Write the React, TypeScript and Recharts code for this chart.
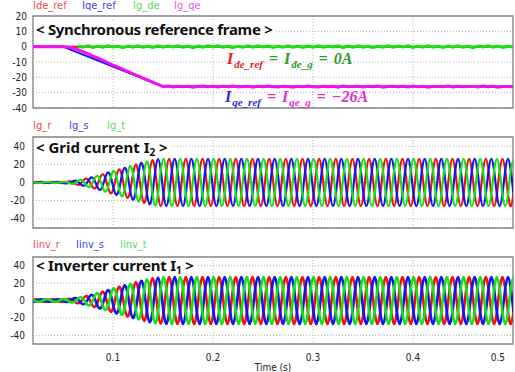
import { LineChart, Line, XAxis, YAxis, CartesianGrid, ReferenceArea } from 'recharts';

// time axis (s)
const T_START = 0.02;
const T_END = 0.5;
const SINE_STEP = 1 / 360; // sample step of the ac traces
const DQ_STEP = 0.005; // sample step of the measured dq traces
const TIME_TICKS = [0.1, 0.2, 0.3, 0.4, 0.5];

// < Synchronous reference frame >
const DQ_TICKS = [20, 10, 0, -10, -20, -30, -40];
const IDE_REF_T = [0.02, 0.5];
const IDE_REF = [0, 0];
const IQE_REF_T = [0.02, 0.05, 0.15, 0.5];
const IQE_REF = [0, 0, -26, -26];
const IG_QE = [
  0, 0.1, -0.1, 0, 0.1, -0.1, 0,
  -0.2, -0.9, -2, -3.3, -4.7, -6.1, -7.5, -9, -10.5, -12,
  -13.4, -14.8, -16.2, -17.7, -19.1, -20.5, -21.9, -23.3, -24.6, -26,
  -25.7, -26.3, -25.9, -26.2, -25.8, -26.4, -26, -25.7, -26.2, -25.9,
  -26.3, -25.8, -26.1, -25.7, -26.3, -26, -25.8, -26.4, -25.9, -26.2,
  -25.7, -26.1, -26.3, -25.8, -26, -26.4, -25.9, -26.2, -25.7, -26.1,
  -26.3, -25.8, -26.2, -25.9, -26.4, -25.7, -26.1, -26, -25.8, -26.3,
  -25.9, -26.2, -25.7, -26.4, -26, -25.8, -26.2, -25.9, -26.3, -25.7,
  -26.1, -25.8, -26.4, -26, -25.9, -26.2, -25.7, -26.3, -25.8, -26.1,
  -26, -25.9, -26.3, -25.7, -26.2, -25.8, -26.4, -26, -25.9, -26.1,
];
const IG_DE_START = 0.065;
const IG_DE = [
  0.4, -0.3, 0.6, -0.5, 0.2, -0.4, 0.5, -0.2, 0.3, -0.6, 0.4,
  -0.3, 0.5, -0.4, 0.2, -0.5, 0.6, -0.3, 0.4, -0.2, 0.5, -0.4,
  0.3, -0.6, 0.4, -0.3, 0.5, -0.2, 0.6, -0.4, 0.3, -0.5, 0.2,
  -0.4, 0.5, -0.3, 0.6, -0.2, 0.4, -0.5, 0.3, -0.4, 0.5, -0.3,
  0.2, -0.5, 0.4, -0.3, 0.6, -0.4, 0.3, -0.2, 0.5, -0.6, 0.4,
  -0.3, 0.5, -0.4, 0.2, -0.5, 0.3, -0.3, 0.6, -0.4, 0.4, -0.2,
  0.5, -0.5, 0.3, -0.4, 0.6, -0.3, 0.2, -0.5, 0.4, -0.3, 0.5,
  -0.4, 0.3, -0.6, 0.4, -0.2, 0.5, -0.3, 0.4, -0.5, 0.3, -0.2,
];

// < Grid current I2 >
const AC_TICKS = [40, 20, 0, -20, -40];
const IG_R = [
  0.3, 0.6, 0.3, -0.3, -0.6, -0.3, 0.3, 0.6, 0.3, -0.3, -0.6, -0.4,
  0.5, 1.2, 0.8, -1, -2.5, -1.5, 1.8, 4.3, 2.5, -2.9, -6.5, -3.7,
  4.1, 9, 5, -5.5, -12, -6.4, 6.8, 14.5, 7.7, -8.1, -17, -9,
  9.5, 19.8, 10.4, -10.8, -22.4, -11.6, 12, 24.6, 12.6, -12.8, -26, -13,
  13, 26, 13, -13, -26, -13, 13, 26, 13, -13, -26, -13, 13, 26, 13, -13, -26, -13,
  13, 26, 13, -13, -26, -13, 13, 26, 13, -13, -26, -13, 13, 26, 13, -13, -26, -13,
  13, 26, 13, -13, -26, -13, 13, 26, 13, -13, -26, -13, 13, 26, 13, -13, -26, -13,
  13, 26, 13, -13, -26, -13, 13, 26, 13, -13, -26, -13, 13, 26, 13, -13, -26, -13,
  13, 26, 13, -13, -26, -13, 13, 26, 13, -13, -26, -13, 13, 26, 13, -13, -26, -13,
  13, 26, 13, -13, -26, -13, 13, 26, 13, -13, -26, -13, 13, 26, 13, -13, -26, -13,
  13, 26, 13, -13, -26, -13, 13, 26, 13, -13, -26, -13, 13, 26, 13, -13, -26, -13,
];
const IG_S = [
  -0.6, -0.3, 0.3, 0.6, 0.3, -0.3, -0.6, -0.3, 0.3, 0.6, 0.3, -0.4,
  -1, -0.6, 0.8, 2, 1.3, -1.5, -3.5, -2.2, 2.5, 5.7, 3.3, -3.7,
  -8.2, -4.5, 5, 11, 6, -6.4, -13.6, -7.3, 7.7, 16.2, 8.5, -9,
  -19, -9.9, 10.4, 21.5, 11.2, -11.6, -24, -12.3, 12.6, 25.6, 13, -13,
  -26, -13, 13, 26, 13, -13, -26, -13, 13, 26, 13, -13, -26, -13, 13, 26, 13, -13,
  -26, -13, 13, 26, 13, -13, -26, -13, 13, 26, 13, -13, -26, -13, 13, 26, 13, -13,
  -26, -13, 13, 26, 13, -13, -26, -13, 13, 26, 13, -13, -26, -13, 13, 26, 13, -13,
  -26, -13, 13, 26, 13, -13, -26, -13, 13, 26, 13, -13, -26, -13, 13, 26, 13, -13,
  -26, -13, 13, 26, 13, -13, -26, -13, 13, 26, 13, -13, -26, -13, 13, 26, 13, -13,
  -26, -13, 13, 26, 13, -13, -26, -13, 13, 26, 13, -13, -26, -13, 13, 26, 13, -13,
  -26, -13, 13, 26, 13, -13, -26, -13, 13, 26, 13, -13, -26, -13, 13, 26, 13, -13,
];
const IG_T = [
  0.3, -0.3, -0.6, -0.3, 0.3, 0.6, 0.3, -0.3, -0.6, -0.3, 0.3, 0.8,
  0.5, -0.6, -1.5, -1, 1.3, 3, 1.8, -2.2, -5, -2.9, 3.3, 7.3,
  4.1, -4.5, -10, -5.5, 6, 12.8, 6.8, -7.3, -15.3, -8.1, 8.5, 18,
  9.5, -9.9, -20.7, -10.8, 11.2, 23.2, 12, -12.3, -25.2, -12.8, 13, 26,
  13, -13, -26, -13, 13, 26, 13, -13, -26, -13, 13, 26, 13, -13, -26, -13, 13, 26,
  13, -13, -26, -13, 13, 26, 13, -13, -26, -13, 13, 26, 13, -13, -26, -13, 13, 26,
  13, -13, -26, -13, 13, 26, 13, -13, -26, -13, 13, 26, 13, -13, -26, -13, 13, 26,
  13, -13, -26, -13, 13, 26, 13, -13, -26, -13, 13, 26, 13, -13, -26, -13, 13, 26,
  13, -13, -26, -13, 13, 26, 13, -13, -26, -13, 13, 26, 13, -13, -26, -13, 13, 26,
  13, -13, -26, -13, 13, 26, 13, -13, -26, -13, 13, 26, 13, -13, -26, -13, 13, 26,
  13, -13, -26, -13, 13, 26, 13, -13, -26, -13, 13, 26, 13, -13, -26, -13, 13, 26,
];

// < Inverter current I1 >
const IINV_R = [
  0.8, 1.5, 0.8, -0.8, -1.5, -0.8, 0.8, 1.5, 0.8, -0.8, -1.5, -0.8,
  0.9, 2, 1.2, -1.4, -3.2, -1.9, 2.2, 5, 2.9, -3.3, -7.4, -4.2,
  4.6, 10.1, 5.5, -6, -13, -7, 7.4, 15.7, 8.3, -8.8, -18.4, -9.7,
  10.1, 21, 10.9, -11.3, -23.4, -12.1, 12.5, 25.6, 13.1, -13.3, -26.8, -13.5,
  13.5, 27, 13.5, -13.5, -27, -13.5, 13.5, 27, 13.5, -13.5, -27, -13.5, 13.5, 27, 13.5, -13.5, -27, -13.5,
  13.5, 27, 13.5, -13.5, -27, -13.5, 13.5, 27, 13.5, -13.5, -27, -13.5, 13.5, 27, 13.5, -13.5, -27, -13.5,
  13.5, 27, 13.5, -13.5, -27, -13.5, 13.5, 27, 13.5, -13.5, -27, -13.5, 13.5, 27, 13.5, -13.5, -27, -13.5,
  13.5, 27, 13.5, -13.5, -27, -13.5, 13.5, 27, 13.5, -13.5, -27, -13.5, 13.5, 27, 13.5, -13.5, -27, -13.5,
  13.5, 27, 13.5, -13.5, -27, -13.5, 13.5, 27, 13.5, -13.5, -27, -13.5, 13.5, 27, 13.5, -13.5, -27, -13.5,
  13.5, 27, 13.5, -13.5, -27, -13.5, 13.5, 27, 13.5, -13.5, -27, -13.5, 13.5, 27, 13.5, -13.5, -27, -13.5,
  13.5, 27, 13.5, -13.5, -27, -13.5, 13.5, 27, 13.5, -13.5, -27, -13.5, 13.5, 27, 13.5, -13.5, -27, -13.5,
];
const IINV_S = [
  -1.5, -0.8, 0.8, 1.5, 0.8, -0.8, -1.5, -0.8, 0.8, 1.5, 0.8, -0.8,
  -1.8, -1, 1.2, 2.7, 1.6, -1.9, -4.3, -2.5, 2.9, 6.6, 3.7, -4.2,
  -9.2, -5.1, 5.5, 12, 6.5, -7, -14.8, -7.9, 8.3, 17.5, 9.2, -9.7,
  -20.2, -10.5, 10.9, 22.6, 11.7, -12.1, -25, -12.8, 13.1, 26.5, 13.4, -13.5,
  -27, -13.5, 13.5, 27, 13.5, -13.5, -27, -13.5, 13.5, 27, 13.5, -13.5, -27, -13.5, 13.5, 27, 13.5, -13.5,
  -27, -13.5, 13.5, 27, 13.5, -13.5, -27, -13.5, 13.5, 27, 13.5, -13.5, -27, -13.5, 13.5, 27, 13.5, -13.5,
  -27, -13.5, 13.5, 27, 13.5, -13.5, -27, -13.5, 13.5, 27, 13.5, -13.5, -27, -13.5, 13.5, 27, 13.5, -13.5,
  -27, -13.5, 13.5, 27, 13.5, -13.5, -27, -13.5, 13.5, 27, 13.5, -13.5, -27, -13.5, 13.5, 27, 13.5, -13.5,
  -27, -13.5, 13.5, 27, 13.5, -13.5, -27, -13.5, 13.5, 27, 13.5, -13.5, -27, -13.5, 13.5, 27, 13.5, -13.5,
  -27, -13.5, 13.5, 27, 13.5, -13.5, -27, -13.5, 13.5, 27, 13.5, -13.5, -27, -13.5, 13.5, 27, 13.5, -13.5,
  -27, -13.5, 13.5, 27, 13.5, -13.5, -27, -13.5, 13.5, 27, 13.5, -13.5, -27, -13.5, 13.5, 27, 13.5, -13.5,
];
const IINV_T = [
  0.8, -0.8, -1.5, -0.8, 0.8, 1.5, 0.8, -0.8, -1.5, -0.8, 0.8, 1.6,
  0.9, -1, -2.3, -1.4, 1.6, 3.7, 2.2, -2.5, -5.8, -3.3, 3.7, 8.3,
  4.6, -5.1, -11, -6, 6.5, 13.9, 7.4, -7.9, -16.6, -8.8, 9.2, 19.3,
  10.1, -10.5, -21.8, -11.3, 11.7, 24.2, 12.5, -12.8, -26.1, -13.3, 13.4, 27,
  13.5, -13.5, -27, -13.5, 13.5, 27, 13.5, -13.5, -27, -13.5, 13.5, 27, 13.5, -13.5, -27, -13.5, 13.5, 27,
  13.5, -13.5, -27, -13.5, 13.5, 27, 13.5, -13.5, -27, -13.5, 13.5, 27, 13.5, -13.5, -27, -13.5, 13.5, 27,
  13.5, -13.5, -27, -13.5, 13.5, 27, 13.5, -13.5, -27, -13.5, 13.5, 27, 13.5, -13.5, -27, -13.5, 13.5, 27,
  13.5, -13.5, -27, -13.5, 13.5, 27, 13.5, -13.5, -27, -13.5, 13.5, 27, 13.5, -13.5, -27, -13.5, 13.5, 27,
  13.5, -13.5, -27, -13.5, 13.5, 27, 13.5, -13.5, -27, -13.5, 13.5, 27, 13.5, -13.5, -27, -13.5, 13.5, 27,
  13.5, -13.5, -27, -13.5, 13.5, 27, 13.5, -13.5, -27, -13.5, 13.5, 27, 13.5, -13.5, -27, -13.5, 13.5, 27,
  13.5, -13.5, -27, -13.5, 13.5, 27, 13.5, -13.5, -27, -13.5, 13.5, 27, 13.5, -13.5, -27, -13.5, 13.5, 27,
];

const RED = '#f01010';
const BLUE = '#1414f0';
const GREEN = '#16e016';
const MAGENTA = '#f010f0';

const NARROW = "'Liberation Sans Narrow', 'DejaVu Sans Condensed', 'Liberation Sans', sans-serif";
const TITLE_FONT = "'Noto Sans', 'DejaVu Sans', sans-serif";
const MATH_FONT = "'Liberation Serif', 'DejaVu Serif', serif";

type Pt = { t: number; v: number };
type Series = { name: string; color: string; width: number; data: Pt[]; curve: 'linear' | 'natural' };

const pairs = (times: number[], values: number[]): Pt[] => values.map((v, i) => ({ t: times[i], v }));
const sampled = (start: number, step: number, values: number[]): Pt[] =>
  values.map((v, i) => ({ t: start + i * step, v }));

const dqSeries: Series[] = [
  { name: 'Ide_ref', color: RED, width: 2, curve: 'linear', data: pairs(IDE_REF_T, IDE_REF) },
  { name: 'Iqe_ref', color: BLUE, width: 2, curve: 'linear', data: pairs(IQE_REF_T, IQE_REF) },
  { name: 'Ig_de', color: GREEN, width: 3, curve: 'linear', data: sampled(IG_DE_START, DQ_STEP, IG_DE) },
  { name: 'Ig_qe', color: MAGENTA, width: 3, curve: 'linear', data: sampled(T_START, DQ_STEP, IG_QE) },
];
const gridSeries: Series[] = [
  { name: 'Ig_r', color: RED, width: 2.2, curve: 'natural', data: sampled(T_START, SINE_STEP, IG_R) },
  { name: 'Ig_s', color: BLUE, width: 2.2, curve: 'natural', data: sampled(T_START, SINE_STEP, IG_S) },
  { name: 'Ig_t', color: GREEN, width: 2.2, curve: 'natural', data: sampled(T_START, SINE_STEP, IG_T) },
];
const invSeries: Series[] = [
  { name: 'Iinv_r', color: RED, width: 2.6, curve: 'natural', data: sampled(T_START, SINE_STEP, IINV_R) },
  { name: 'Iinv_s', color: BLUE, width: 2.6, curve: 'natural', data: sampled(T_START, SINE_STEP, IINV_S) },
  { name: 'Iinv_t', color: GREEN, width: 2.6, curve: 'natural', data: sampled(T_START, SINE_STEP, IINV_T) },
];

function TimeTick({ x, y, payload }: any) {
  const last = payload.value >= T_END;
  return (
    <text x={x} y={y} dy={9} textAnchor={last ? 'end' : 'middle'} fontSize={10} fill="#222" fontFamily={NARROW}>
      {payload.value}
    </text>
  );
}

interface PanelProps {
  top: number;
  height: number;
  marginTop: number;
  marginBottom: number;
  yDomain: [number, number];
  yTicks: number[];
  series: Series[];
  showTime?: boolean;
  tickMargin: number;
}

function Panel({ top, height, marginTop, marginBottom, yDomain, yTicks, series, showTime, tickMargin }: PanelProps) {
  return (
    <div style={{ position: 'absolute', left: 0, top }}>
      <LineChart width={515} height={height} margin={{ top: marginTop, right: 2, bottom: marginBottom, left: 5 }}>
        <CartesianGrid stroke="#b4b4b4" strokeDasharray="1 2" />
        <XAxis
          type="number"
          dataKey="t"
          domain={[T_START, T_END]}
          ticks={TIME_TICKS}
          allowDataOverflow
          hide={!showTime}
          height={showTime ? 28 : 0}
          axisLine={false}
          tickLine={false}
          tick={<TimeTick />}
          label={showTime ? { value: 'Time (s)', position: 'insideBottom', offset: 1, fontSize: 10, fill: '#222', fontFamily: NARROW } : undefined}
        />
        <YAxis
          type="number"
          domain={yDomain}
          ticks={yTicks}
          interval={0}
          allowDataOverflow
          width={28}
          axisLine={false}
          tickLine={false}
          tickMargin={tickMargin}
          tick={{ fontSize: 10, fill: '#222', fontFamily: NARROW }}
        />
        {series.map((s) => (
          <Line
            key={s.name}
            data={s.data}
            dataKey="v"
            type={s.curve}
            stroke={s.color}
            strokeWidth={s.width}
            dot={false}
            activeDot={false}
            isAnimationActive={false}
          />
        ))}
        <ReferenceArea
          x1={T_START}
          x2={T_END}
          y1={yDomain[0]}
          y2={yDomain[1]}
          fill="none"
          stroke="#858585"
          strokeWidth={1.3}
          ifOverflow="visible"
        />
      </LineChart>
    </div>
  );
}

function Legend({ top, items }: { top: number; items: { label: string; color: string; left: number }[] }) {
  return (
    <>
      {items.map((it) => (
        <div
          key={it.label}
          style={{ position: 'absolute', left: it.left, top, color: it.color, fontFamily: NARROW, fontSize: 11, lineHeight: '12px' }}
        >
          {it.label}
        </div>
      ))}
    </>
  );
}

function Title({ top, text, sub, spacing }: { top: number; text: string; sub?: string; spacing: number }) {
  return (
    <div
      style={{
        position: 'absolute',
        left: 35,
        top,
        background: '#fff',
        padding: '0 2px 0 1px',
        fontFamily: TITLE_FONT,
        fontWeight: 700,
        fontSize: 15,
        lineHeight: '14px',
        letterSpacing: spacing,
        color: '#111',
        whiteSpace: 'nowrap',
      }}
    >
      {'< '}
      {text}
      {sub && <span style={{ fontSize: 10, position: 'relative', top: 3 }}>{sub}</span>}
      {' >'}
    </div>
  );
}

const mathStyle = {
  position: 'absolute' as const,
  fontFamily: MATH_FONT,
  fontStyle: 'italic',
  fontWeight: 700,
  fontSize: 16,
  lineHeight: '15px',
  whiteSpace: 'nowrap' as const,
};
const subStyle = { fontSize: 11, position: 'relative' as const, top: 4, marginLeft: 1 };
const eqStyle = { margin: '0 6px', fontStyle: 'normal' as const };

export default function App() {
  return (
    <div style={{ position: 'absolute', left: 0, top: 0, width: 515, height: 372, background: '#fff', overflow: 'hidden' }}>
      <Panel top={0} height={115} marginTop={16} marginBottom={7} yDomain={[-40, 20]} yTicks={DQ_TICKS} series={dqSeries} tickMargin={0} />
      <Panel top={115} height={120} marginTop={22} marginBottom={7} yDomain={[-50, 50]} yTicks={AC_TICKS} series={gridSeries} tickMargin={2} />
      <Panel top={235} height={137} marginTop={22} marginBottom={0} yDomain={[-50, 50]} yTicks={AC_TICKS} series={invSeries} showTime tickMargin={2} />

      <Legend
        top={0}
        items={[
          { label: 'Ide_ref', color: '#f24a4a', left: 33 },
          { label: 'Iqe_ref', color: '#4343ee', left: 82 },
          { label: 'Ig_de', color: '#55e055', left: 133 },
          { label: 'Ig_qe', color: '#ee55ee', left: 174 },
        ]}
      />
      <Legend
        top={120}
        items={[
          { label: 'Ig_r', color: '#f24a4a', left: 33 },
          { label: 'Ig_s', color: '#4343ee', left: 69 },
          { label: 'Ig_t', color: '#55e055', left: 107 },
        ]}
      />
      <Legend
        top={239}
        items={[
          { label: 'Iinv_r', color: '#f24a4a', left: 33 },
          { label: 'Iinv_s', color: '#4343ee', left: 76 },
          { label: 'Iinv_t', color: '#55e055', left: 120 },
        ]}
      />

      <Title top={22} text="Synchronous reference frame" spacing={-0.3} />
      <Title top={140} text="Grid current I" sub="2" spacing={0} />
      <Title top={258} text="Inverter current I" sub="1" spacing={-0.2} />

      <div style={{ ...mathStyle, left: 227, top: 51 }}>
        <span style={{ color: '#e01c1c' }}>
          I<span style={subStyle}>de_ref</span>
        </span>
        <span style={{ color: '#2e9a2e' }}>
          <span style={eqStyle}>=</span>I<span style={subStyle}>de_g</span>
          <span style={eqStyle}>=</span>0A
        </span>
      </div>
      <div style={{ ...mathStyle, left: 225, top: 89 }}>
        <span style={{ color: '#2a2ad8' }}>
          I<span style={subStyle}>qe_ref</span>
        </span>
        <span style={{ color: '#e62ccf' }}>
          <span style={eqStyle}>=</span>I<span style={subStyle}>qe_g</span>
          <span style={eqStyle}>=</span>
          {'\u221226A'}
        </span>
      </div>
    </div>
  );
}
